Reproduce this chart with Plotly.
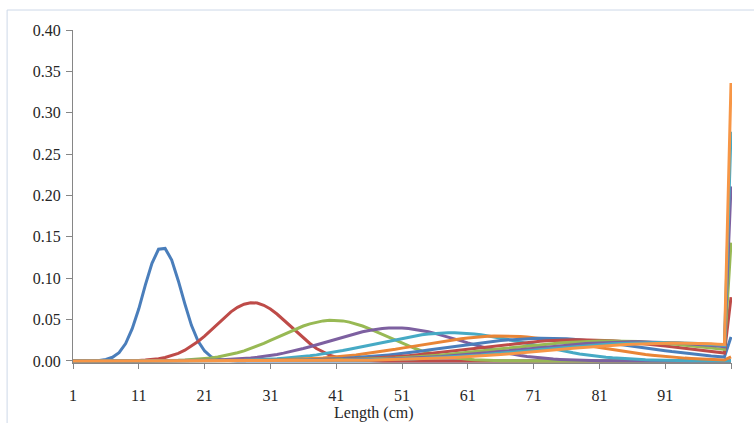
import plotly.graph_objects as go

# Length classes (cm); the last class is the plus group
lengths = list(range(1, 102))
tick_vals = [1, 11, 21, 31, 41, 51, 61, 71, 81, 91, 101]
tick_text = ["1", "11", "21", "31", "41", "51", "61", "71", "81", "91", ""]
y_ticks = [0, 0.05, 0.10, 0.15, 0.20, 0.25, 0.30, 0.35, 0.40]
y_text = ["0.00", "0.05", "0.10", "0.15", "0.20", "0.25", "0.30", "0.35", "0.40"]

age1 = [0, 0, 0, 0, 0.0006, 0.0017, 0.0044, 0.010, 0.021, 0.039,
        0.063, 0.092, 0.118, 0.135, 0.136, 0.122, 0.097, 0.069, 0.043, 0.024,
        0.012, 0.005, 0.002, 0.0007, 0, 0, 0, 0, 0, 0,
        0, 0, 0, 0, 0, 0, 0, 0, 0, 0,
        0, 0, 0, 0, 0, 0, 0, 0, 0, 0,
        0, 0, 0, 0, 0, 0, 0, 0, 0, 0,
        0, 0, 0, 0, 0, 0, 0, 0, 0, 0,
        0, 0, 0, 0, 0, 0, 0, 0, 0, 0,
        0, 0, 0, 0, 0, 0, 0, 0, 0, 0,
        0, 0, 0, 0, 0, 0, 0, 0, 0, 0,
        0]
age2 = [0, 0, 0, 0, 0, 0, 0, 0, 0, 0,
        0.0005, 0.001, 0.0017, 0.0027, 0.0042, 0.0063, 0.0092, 0.013, 0.0178, 0.0235,
        0.030, 0.0374, 0.045, 0.0525, 0.0593, 0.0648, 0.0686, 0.0704, 0.0700, 0.0673,
        0.0628, 0.0567, 0.0496, 0.042, 0.0345, 0.0274, 0.0211, 0.0150, 0.0105, 0.007,
        0.0045, 0.003, 0.0018, 0.0011, 0.0006, 0.0003, 0.0001, 0, 0, 0,
        0, 0, 0, 0, 0, 0, 0, 0, 0, 0,
        0, 0, 0, 0, 0, 0, 0, 0, 0, 0,
        0, 0, 0, 0, 0, 0, 0, 0, 0, 0,
        0, 0, 0, 0, 0, 0, 0, 0, 0, 0,
        0, 0, 0, 0, 0, 0, 0, 0, 0, 0,
        0]
age3 = [0, 0, 0, 0, 0, 0, 0, 0, 0, 0,
        0, 0, 0, 0.0002, 0.0003, 0.0005, 0.0007, 0.0010, 0.0015, 0.0020,
        0.0027, 0.0036, 0.0048, 0.0062, 0.0079, 0.0099, 0.0122, 0.0150, 0.0180, 0.0213,
        0.0248, 0.0284, 0.0320, 0.0357, 0.0391, 0.0422, 0.0448, 0.0469, 0.0484, 0.0491,
        0.0491, 0.0484, 0.0469, 0.0448, 0.0422, 0.0391, 0.0357, 0.0320, 0.0284, 0.0248,
        0.0213, 0.0180, 0.0150, 0.0122, 0.0099, 0.0079, 0.0062, 0.0048, 0.0036, 0.0027,
        0.0020, 0.0015, 0.0010, 0.0007, 0.0005, 0.0003, 0.0002, 0, 0, 0,
        0, 0, 0, 0, 0, 0, 0, 0, 0, 0,
        0, 0, 0, 0, 0, 0, 0, 0, 0, 0,
        0, 0, 0, 0, 0, 0, 0, 0, 0, 0,
        0]
age4 = [0, 0, 0, 0, 0, 0, 0, 0, 0, 0,
        0, 0, 0, 0, 0, 0, 0.0001, 0.0002, 0.0003, 0.0004,
        0.0006, 0.0008, 0.0010, 0.0014, 0.0018, 0.0022, 0.0028, 0.0036, 0.0044, 0.0054,
        0.0066, 0.0079, 0.0094, 0.0111, 0.0130, 0.0150, 0.0171, 0.0194, 0.0218, 0.0242,
        0.0266, 0.0290, 0.0312, 0.0333, 0.0352, 0.0368, 0.0381, 0.0391, 0.0397, 0.0399,
        0.0397, 0.0391, 0.0381, 0.0368, 0.0352, 0.0333, 0.0312, 0.0290, 0.0266, 0.0242,
        0.0218, 0.0194, 0.0171, 0.0150, 0.0130, 0.0111, 0.0094, 0.0079, 0.0066, 0.0054,
        0.0044, 0.0036, 0.0028, 0.0022, 0.0018, 0.0014, 0.0010, 0.0008, 0.0006, 0.0004,
        0.0003, 0.0002, 0.0001, 0, 0, 0, 0, 0, 0, 0,
        0, 0, 0, 0, 0, 0, 0, 0, 0, 0,
        0]
age5 = [0, 0, 0, 0, 0, 0, 0, 0, 0, 0,
        0, 0, 0, 0, 0, 0, 0, 0.0001, 0.0001, 0.0001,
        0.0002, 0.0002, 0.0003, 0.0004, 0.0006, 0.0007, 0.0009, 0.0012, 0.0014, 0.0018,
        0.0022, 0.0026, 0.0032, 0.0038, 0.0045, 0.0054, 0.0063, 0.0073, 0.0085, 0.0098,
        0.0111, 0.0126, 0.0142, 0.0158, 0.0175, 0.0193, 0.0210, 0.0228, 0.0245, 0.0262,
        0.0278, 0.0292, 0.0305, 0.0317, 0.0326, 0.0333, 0.0338, 0.0341, 0.0341, 0.0338,
        0.0333, 0.0326, 0.0317, 0.0305, 0.0292, 0.0278, 0.0262, 0.0245, 0.0228, 0.0210,
        0.0193, 0.0175, 0.0158, 0.0142, 0.0126, 0.0111, 0.0098, 0.0085, 0.0073, 0.0063,
        0.0054, 0.0045, 0.0038, 0.0032, 0.0026, 0.0022, 0.0018, 0.0014, 0.0012, 0.0009,
        0.0007, 0.0006, 0.0004, 0.0003, 0.0002, 0.0002, 0.0001, 0.0001, 0.0001, 0,
        0.0002]
age6 = [0, 0, 0, 0, 0, 0, 0, 0, 0, 0,
        0, 0, 0, 0, 0, 0, 0, 0, 0, 0,
        0, 0.0001, 0.0001, 0.0002, 0.0002, 0.0003, 0.0004, 0.0005, 0.0006, 0.0007,
        0.0009, 0.0011, 0.0013, 0.0015, 0.0019, 0.0022, 0.0026, 0.0031, 0.0036, 0.0042,
        0.0049, 0.0056, 0.0064, 0.0073, 0.0083, 0.0093, 0.0104, 0.0116, 0.0129, 0.0141,
        0.0155, 0.0168, 0.0182, 0.0196, 0.0209, 0.0223, 0.0236, 0.0247, 0.0259, 0.0269,
        0.0278, 0.0286, 0.0292, 0.0297, 0.0300, 0.0301, 0.0301, 0.0299, 0.0295, 0.0290,
        0.0283, 0.0275, 0.0265, 0.0254, 0.0243, 0.0231, 0.0217, 0.0204, 0.0190, 0.0176,
        0.0163, 0.0149, 0.0136, 0.0123, 0.0111, 0.0100, 0.0089, 0.0079, 0.0070, 0.0061,
        0.0053, 0.0046, 0.0040, 0.0034, 0.0029, 0.0024, 0.0021, 0.0017, 0.0014, 0.0012,
        0.005]
age7 = [0, 0, 0, 0, 0, 0, 0, 0, 0, 0,
        0, 0, 0, 0, 0, 0, 0, 0, 0, 0,
        0, 0, 0, 0, 0.0001, 0.0001, 0.0002, 0.0002, 0.0003, 0.0004,
        0.0004, 0.0005, 0.0007, 0.0008, 0.0009, 0.0011, 0.0013, 0.0016, 0.0019, 0.0022,
        0.0025, 0.0029, 0.0034, 0.0039, 0.0045, 0.0051, 0.0057, 0.0065, 0.0073, 0.0081,
        0.0090, 0.0099, 0.0109, 0.0120, 0.0131, 0.0142, 0.0153, 0.0164, 0.0176, 0.0187,
        0.0198, 0.0209, 0.0219, 0.0229, 0.0238, 0.0246, 0.0254, 0.0260, 0.0265, 0.0269,
        0.0272, 0.0274, 0.0274, 0.0273, 0.0271, 0.0267, 0.0262, 0.0256, 0.0250, 0.0242,
        0.0233, 0.0223, 0.0213, 0.0203, 0.0192, 0.0180, 0.0169, 0.0158, 0.0146, 0.0135,
        0.0124, 0.0113, 0.0103, 0.0094, 0.0085, 0.0076, 0.0068, 0.0060, 0.0053, 0.0047,
        0.029]
age8 = [0, 0, 0, 0, 0, 0, 0, 0, 0, 0,
        0, 0, 0, 0, 0, 0, 0, 0, 0, 0,
        0, 0, 0, 0, 0, 0, 0.0001, 0.0001, 0.0002, 0.0002,
        0.0003, 0.0003, 0.0004, 0.0005, 0.0006, 0.0007, 0.0008, 0.0010, 0.0011, 0.0013,
        0.0015, 0.0018, 0.0021, 0.0024, 0.0027, 0.0031, 0.0036, 0.0040, 0.0046, 0.0051,
        0.0057, 0.0064, 0.0071, 0.0078, 0.0087, 0.0095, 0.0103, 0.0113, 0.0122, 0.0132,
        0.0141, 0.0151, 0.0161, 0.0171, 0.0181, 0.0190, 0.0200, 0.0208, 0.0217, 0.0225,
        0.0231, 0.0238, 0.0243, 0.0248, 0.0251, 0.0254, 0.0255, 0.0256, 0.0255, 0.0254,
        0.0251, 0.0248, 0.0243, 0.0238, 0.0231, 0.0225, 0.0217, 0.0208, 0.0200, 0.0190,
        0.0181, 0.0171, 0.0161, 0.0151, 0.0141, 0.0132, 0.0122, 0.0113, 0.0103, 0.0095,
        0.077]
age9 = [0, 0, 0, 0, 0, 0, 0, 0, 0, 0,
        0, 0, 0, 0, 0, 0, 0, 0, 0, 0,
        0, 0, 0, 0, 0, 0, 0, 0, 0.0001, 0.0001,
        0.0002, 0.0002, 0.0003, 0.0003, 0.0004, 0.0004, 0.0005, 0.0006, 0.0007, 0.0009,
        0.0010, 0.0012, 0.0014, 0.0016, 0.0018, 0.0021, 0.0024, 0.0027, 0.0030, 0.0034,
        0.0039, 0.0043, 0.0048, 0.0054, 0.0060, 0.0066, 0.0073, 0.0080, 0.0087, 0.0095,
        0.0103, 0.0111, 0.0120, 0.0128, 0.0137, 0.0146, 0.0155, 0.0163, 0.0172, 0.0181,
        0.0189, 0.0197, 0.0204, 0.0211, 0.0218, 0.0223, 0.0228, 0.0233, 0.0236, 0.0239,
        0.0241, 0.0242, 0.0242, 0.0241, 0.0239, 0.0237, 0.0234, 0.0229, 0.0224, 0.0219,
        0.0213, 0.0206, 0.0198, 0.0190, 0.0183, 0.0174, 0.0165, 0.0156, 0.0148, 0.0139,
        0.143]
age10 = [0, 0, 0, 0, 0, 0, 0, 0, 0, 0,
         0, 0, 0, 0, 0, 0, 0, 0, 0, 0,
         0, 0, 0, 0, 0, 0, 0, 0, 0, 0,
         0.0001, 0.0001, 0.0002, 0.0002, 0.0003, 0.0003, 0.0004, 0.0004, 0.0005, 0.0006,
         0.0007, 0.0008, 0.0010, 0.0011, 0.0013, 0.0015, 0.0017, 0.0019, 0.0022, 0.0025,
         0.0028, 0.0031, 0.0035, 0.0039, 0.0044, 0.0048, 0.0053, 0.0059, 0.0065, 0.0071,
         0.0077, 0.0084, 0.0091, 0.0099, 0.0106, 0.0114, 0.0121, 0.0129, 0.0137, 0.0146,
         0.0154, 0.0162, 0.0170, 0.0177, 0.0185, 0.0191, 0.0198, 0.0204, 0.0210, 0.0215,
         0.0219, 0.0223, 0.0226, 0.0228, 0.0230, 0.0231, 0.0231, 0.0230, 0.0229, 0.0227,
         0.0224, 0.0220, 0.0216, 0.0211, 0.0205, 0.0199, 0.0193, 0.0186, 0.0179, 0.0171,
         0.211]
age11 = [0, 0, 0, 0, 0, 0, 0, 0, 0, 0,
         0, 0, 0, 0, 0, 0, 0, 0, 0, 0,
         0, 0, 0, 0, 0, 0, 0, 0, 0, 0,
         0, 0, 0.0001, 0.0001, 0.0002, 0.0002, 0.0003, 0.0003, 0.0004, 0.0005,
         0.0006, 0.0006, 0.0007, 0.0009, 0.0010, 0.0011, 0.0013, 0.0015, 0.0017, 0.0019,
         0.0022, 0.0024, 0.0027, 0.0031, 0.0034, 0.0038, 0.0042, 0.0046, 0.0051, 0.0056,
         0.0062, 0.0067, 0.0073, 0.0080, 0.0086, 0.0093, 0.0100, 0.0107, 0.0114, 0.0122,
         0.0129, 0.0137, 0.0144, 0.0151, 0.0159, 0.0166, 0.0173, 0.0180, 0.0186, 0.0193,
         0.0198, 0.0203, 0.0208, 0.0212, 0.0215, 0.0218, 0.0220, 0.0222, 0.0223, 0.0223,
         0.0222, 0.0221, 0.0219, 0.0217, 0.0213, 0.0210, 0.0205, 0.0200, 0.0195, 0.0189,
         0.277]
age12 = [0, 0, 0, 0, 0, 0, 0, 0, 0, 0,
         0, 0, 0, 0, 0, 0, 0, 0, 0, 0,
         0, 0, 0, 0, 0, 0, 0, 0, 0, 0,
         0, 0, 0, 0.0001, 0.0001, 0.0002, 0.0002, 0.0003, 0.0003, 0.0004,
         0.0004, 0.0005, 0.0006, 0.0007, 0.0008, 0.0009, 0.0010, 0.0012, 0.0014, 0.0015,
         0.0017, 0.0020, 0.0022, 0.0025, 0.0028, 0.0031, 0.0034, 0.0038, 0.0042, 0.0046,
         0.0051, 0.0055, 0.0060, 0.0066, 0.0071, 0.0077, 0.0084, 0.0090, 0.0096, 0.0103,
         0.0110, 0.0117, 0.0124, 0.0131, 0.0138, 0.0145, 0.0152, 0.0159, 0.0166, 0.0172,
         0.0178, 0.0184, 0.0189, 0.0194, 0.0199, 0.0203, 0.0207, 0.0210, 0.0212, 0.0214,
         0.0215, 0.0216, 0.0216, 0.0215, 0.0214, 0.0212, 0.0210, 0.0207, 0.0203, 0.0199,
         0.336]

series = [age1, age2, age3, age4, age5, age6, age7, age8, age9, age10, age11, age12]
colors = ["#4A7EBB", "#BE4B48", "#98B954", "#7D60A0", "#46AAC5", "#E98536",
          "#4A7EBB", "#BE4B48", "#98B954", "#7D60A0", "#46AAC5", "#F79646"]

fig = go.Figure()
for i, (vals, col) in enumerate(zip(series, colors)):
    assert len(vals) == len(lengths), (i, len(vals))
    fig.add_trace(go.Scatter(x=lengths, y=vals, mode="lines", name=f"Age {i + 1}",
                             line=dict(color=col, width=3), hoverinfo="x+y+name"))

axis_col = "#868686"
fig.update_layout(
    width=754, height=423,
    margin=dict(l=73, r=22, t=30, b=60),
    plot_bgcolor="white", paper_bgcolor="white",
    showlegend=False,
    font=dict(family="Liberation Serif, Times New Roman, serif", size=16, color="#262626"),
    xaxis=dict(range=[1, 101.15], tickvals=tick_vals, ticktext=tick_text,
               ticks="outside", ticklen=5, tickcolor=axis_col, tickwidth=1,
               showline=True, linecolor=axis_col, linewidth=1,
               showgrid=False, zeroline=False, ticklabelstandoff=13),
    yaxis=dict(range=[-0.0025, 0.4], tickvals=y_ticks, ticktext=y_text,
               ticks="outside", ticklen=6, tickcolor=axis_col, tickwidth=1,
               showline=True, linecolor=axis_col, linewidth=1,
               showgrid=False, zeroline=False, ticklabelstandoff=2),
    annotations=[dict(text="Length (cm)", xref="paper", yref="paper",
                      x=0.456, y=-0.151, xanchor="center", yanchor="middle",
                      showarrow=False, font=dict(size=16, color="#262626"))],
    shapes=[dict(type="rect", xref="paper", yref="paper",
                 x0=-0.1, x1=1.06, y0=-0.25, y1=1.06,
                 line=dict(color="#CDD8E8", width=1), fillcolor="rgba(0,0,0,0)",
                 layer="below")],
)

fig.write_html("out.html")
